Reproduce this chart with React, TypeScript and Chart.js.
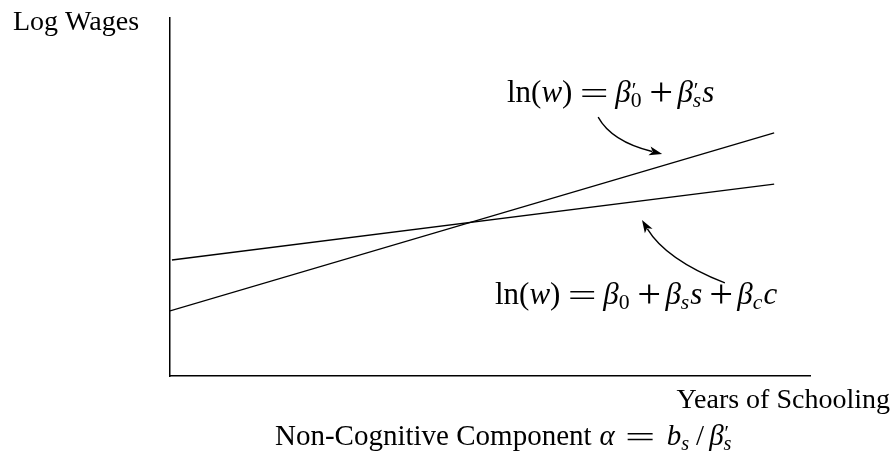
import React, { useEffect, useRef } from "react";
import { Chart, registerables } from "chart.js";

Chart.register(...registerables);

// Data (in axis units, x: schooling 0..10, y: log wage 0..10)
const steepX = [0, 9.44];
const steepY = [1.82, 6.79];
const flatX = [0.03, 9.44];
const flatY = [3.24, 5.36];

const yAxisLabel = "Log Wages";
const xAxisLabel = "Years of Schooling";
const bottomLabel = "Non-Cognitive Component";

type Seg = {
  t?: string;
  it?: boolean;
  op?: boolean; // stretched operator
  big?: number; // font scale for operator
  sx?: number; // horizontal scale
  dy?: number; // baseline shift in px
  gl?: number; // gap before (px)
  gr?: number; // gap after (px)
  sup?: string;
  sub?: string;
  subIt?: boolean;
};

const FONT = '"Liberation Serif", "Times New Roman", serif';

const EQ: Seg = { t: "=", op: true, sx: 1.65, big: 1, dy: 2 };
const PLUS: Seg = { t: "+", op: true, sx: 1.05, big: 1.3, dy: 3 };

const formulaSteep: Seg[] = [
  { t: "ln(" },
  { t: "w", it: true },
  { t: ")" },
  { ...EQ, gl: 9, gr: 9 },
  { t: "β", it: true, sup: "′", sub: "0" },
  { ...PLUS, gl: 9, gr: 6 },
  { t: "β", it: true, sup: "′", sub: "s", subIt: true },
  { t: "s", it: true },
];

const formulaFlat: Seg[] = [
  { t: "ln(" },
  { t: "w", it: true },
  { t: ")" },
  { ...EQ, gl: 9, gr: 9 },
  { t: "β", it: true, sub: "0" },
  { ...PLUS, gl: 9, gr: 6 },
  { t: "β", it: true, sub: "s", subIt: true },
  { t: "s", it: true },
  { ...PLUS, gl: 9, gr: 6 },
  { t: "β", it: true, sub: "c", subIt: true },
  { t: "c", it: true },
];

const bottomFormula: Seg[] = [
  { t: bottomLabel },
  { t: "α", it: true, gl: 8 },
  { ...EQ, sx: 1.85, gl: 12, gr: 14 },
  { t: "b", it: true, sub: "s", subIt: true },
  { t: "/", gl: 6, gr: 5 },
  { t: "β", it: true, sup: "′", sub: "s", subIt: true },
];

function drawMath(ctx: CanvasRenderingContext2D, segs: Seg[], x: number, y: number, size: number) {
  let cx = x;
  ctx.textAlign = "left";
  ctx.textBaseline = "alphabetic";
  for (const s of segs) {
    cx += s.gl || 0;
    if (s.t) {
      const fs = size * (s.big || 1);
      ctx.font = `${s.it ? "italic " : ""}${fs}px ${FONT}`;
      const w = ctx.measureText(s.t).width;
      const sx = s.sx || 1;
      if (s.op) {
        const m = ctx.measureText(s.t);
        const inkL = m.actualBoundingBoxLeft;
        const inkW = m.actualBoundingBoxLeft + m.actualBoundingBoxRight;
        ctx.save();
        ctx.translate(cx, y + (s.dy || 0));
        ctx.scale(sx, 1);
        ctx.fillText(s.t, inkL, 0);
        ctx.restore();
        cx += inkW * sx;
      } else {
        ctx.fillText(s.t, cx, y + (s.dy || 0));
        cx += w;
      }
    }
    if (s.sup || s.sub) {
      const ss = size * 0.7;
      let w = 0;
      if (s.sup) {
        ctx.font = `${ss}px ${FONT}`;
        ctx.fillText(s.sup, cx + 1, y - size * 0.16);
        w = Math.max(w, ctx.measureText(s.sup).width + 1);
      }
      if (s.sub) {
        ctx.font = `${s.subIt ? "italic " : ""}${ss}px ${FONT}`;
        ctx.fillText(s.sub, cx, y + size * 0.17);
        w = Math.max(w, ctx.measureText(s.sub).width);
      }
      cx += w + 1;
    }
    cx += s.gr || 0;
  }
  return cx;
}

function drawArrow(
  ctx: CanvasRenderingContext2D,
  p0: [number, number],
  c: [number, number],
  p1: [number, number]
) {
  ctx.save();
  ctx.strokeStyle = "#000";
  ctx.fillStyle = "#000";
  ctx.lineWidth = 1.4;
  const ang = Math.atan2(p1[1] - c[1], p1[0] - c[0]);
  const L = 13;
  const W = 4.5;
  const bx = p1[0] - L * 0.8 * Math.cos(ang);
  const by = p1[1] - L * 0.8 * Math.sin(ang);
  ctx.beginPath();
  ctx.moveTo(p0[0], p0[1]);
  ctx.quadraticCurveTo(c[0], c[1], bx, by);
  ctx.stroke();
  ctx.beginPath();
  ctx.moveTo(p1[0], p1[1]);
  ctx.lineTo(p1[0] - L * Math.cos(ang) + W * Math.sin(ang), p1[1] - L * Math.sin(ang) - W * Math.cos(ang));
  ctx.lineTo(p1[0] - L * 0.75 * Math.cos(ang), p1[1] - L * 0.75 * Math.sin(ang));
  ctx.lineTo(p1[0] - L * Math.cos(ang) - W * Math.sin(ang), p1[1] - L * Math.sin(ang) + W * Math.cos(ang));
  ctx.closePath();
  ctx.fill();
  ctx.restore();
}

const annotationPlugin = {
  id: "annotations",
  afterDraw(chart: any) {
    const ctx: CanvasRenderingContext2D = chart.ctx;
    const xs = chart.scales.x;
    const ys = chart.scales.y;
    const P = (x: number, y: number): [number, number] => [xs.getPixelForValue(x), ys.getPixelForValue(y)];
    ctx.save();
    ctx.fillStyle = "#000";
    ctx.font = `28px ${FONT}`;
    ctx.textAlign = "left";
    ctx.textBaseline = "alphabetic";
    ctx.fillText(yAxisLabel, 13, 30);
    ctx.textAlign = "right";
    ctx.fillText(xAxisLabel, 890, 408);

    drawMath(ctx, formulaSteep, 507, 102, 31);
    drawMath(ctx, formulaFlat, 495, 304, 31);
    drawMath(ctx, bottomFormula, 275, 445, 29);

    drawArrow(ctx, P(6.69, 7.23), P(6.9, 6.55), P(7.69, 6.2));
    drawArrow(ctx, P(8.67, 2.6), P(7.75, 3.25), P(7.375, 4.36));
    ctx.restore();
  },
};

export default function App() {
  const ref = useRef<HTMLCanvasElement | null>(null);
  useEffect(() => {
    document.body.style.margin = "0";
    const canvas = ref.current;
    if (!canvas) return;
    const axis = {
      type: "linear" as const,
      min: 0,
      max: 10,
      grid: { display: false, drawTicks: false },
      ticks: { display: false },
      border: { display: true, color: "#000", width: 1.5 },
    };
    const chart = new Chart(canvas, {
      type: "line",
      data: {
        datasets: [
          {
            data: steepX.map((x, i) => ({ x, y: steepY[i] })),
            borderColor: "#000",
            borderWidth: 1.3,
            pointRadius: 0,
            fill: false,
          },
          {
            data: flatX.map((x, i) => ({ x, y: flatY[i] })),
            borderColor: "#000",
            borderWidth: 1.3,
            pointRadius: 0,
            fill: false,
          },
        ],
      },
      options: {
        animation: false,
        responsive: false,
        maintainAspectRatio: false,
        layout: { padding: { left: 170, top: 18, right: 83, bottom: 79 } },
        plugins: { legend: { display: false }, tooltip: { enabled: false } },
        scales: { x: axis, y: axis },
      },
      plugins: [annotationPlugin],
    });
    return () => chart.destroy();
  }, []);
  return (
    <div style={{ width: 893, height: 455, background: "#fff" }}>
      <canvas ref={ref} width={893} height={455} style={{ display: "block" }} />
    </div>
  );
}
